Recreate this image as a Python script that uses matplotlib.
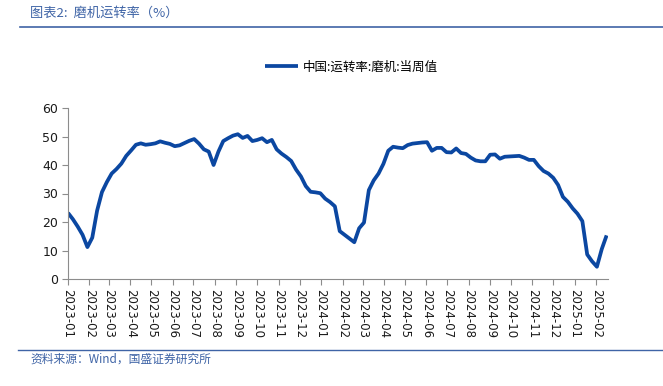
import matplotlib
matplotlib.use('Agg')
import matplotlib.pyplot as plt
from matplotlib.lines import Line2D
import pandas as pd

plt.rcParams['font.family'] = ['Noto Sans CJK SC', 'DejaVu Sans']

series_name = '中国:运转率:磨机:当周值'
values = [
    23.2, 21.0, 18.4, 15.5, 11.2, 14.5, 24.0, 30.5, 34.0, 37.0,
    38.6, 40.5, 43.2, 45.1, 47.1, 47.6, 47.1, 47.3, 47.6, 48.3,
    47.8, 47.4, 46.6, 46.9, 47.7, 48.5, 49.1, 47.5, 45.5, 44.7,
    40.0, 44.7, 48.4, 49.4, 50.3, 50.8, 49.5, 50.2, 48.4, 48.8,
    49.4, 48.0, 48.8, 45.5, 44.0, 42.8, 41.4, 38.4, 36.0, 32.6,
    30.6, 30.4, 30.1, 28.2, 27.0, 25.5, 16.8, 15.5, 14.2, 12.9,
    17.8, 19.8, 31.2, 34.6, 37.0, 40.4, 45.0, 46.4, 46.1, 45.9,
    47.0, 47.5, 47.7, 47.9, 48.0, 45.0, 46.0, 46.0, 44.5, 44.4,
    45.8, 44.2, 43.9, 42.6, 41.6, 41.3, 41.3, 43.6, 43.7, 42.2,
    42.9, 43.0, 43.1, 43.2, 42.6, 41.8, 41.8, 39.6, 37.9, 37.0,
    35.5, 33.0, 28.8, 27.1, 24.8, 22.9, 20.3, 8.6, 6.2, 4.3,
    10.5, 15.3,
]
dates = pd.date_range('2023-01-01', periods=len(values), freq='7D')
tick_dates = pd.date_range('2023-01-01', '2025-02-01', freq='MS')
tick_labels = [d.strftime('%Y-%m') for d in tick_dates]
y_ticks = [0, 10, 20, 30, 40, 50, 60]

line_color = '#0B47A1'
deco_color = '#3F64A6'
axis_color = '#8C8C8C'

fig = plt.figure(figsize=(6.63, 3.86), dpi=100)
ax = fig.add_axes([68 / 663, 1 - 279 / 386, (608 - 68) / 663, (279 - 108) / 386])

ax.plot(dates, values, color=line_color, lw=2.7, solid_joinstyle='round',
        solid_capstyle='butt', label=series_name)

ax.set_ylim(0, 60)
ax.set_yticks(y_ticks)
ax.set_xlim(dates[0], dates[-1] + pd.Timedelta(days=2))
ax.set_xticks(tick_dates)
ax.set_xticklabels(tick_labels, rotation=-90, fontsize=8.5, family='DejaVu Sans')
for lab in ax.get_yticklabels():
    lab.set_fontsize(9)
    lab.set_family('DejaVu Sans')

for s in ['top', 'right']:
    ax.spines[s].set_visible(False)
for s in ['left', 'bottom']:
    ax.spines[s].set_color(axis_color)
    ax.spines[s].set_linewidth(0.8)
ax.tick_params(axis='both', direction='out', length=4, width=0.8,
               color=axis_color, labelcolor='#1A1A1A', pad=3)

leg = fig.legend(loc='center', bbox_to_anchor=(0.53, 1 - 67 / 386), frameon=False,
                 fontsize=9, handlelength=2.6, handletextpad=0.4)

# title and decorations
fig.text(30 / 663, 1 - 13 / 386, '图表2:  磨机运转率（%）', color=deco_color,
         fontsize=9.5, va='center', ha='left', style='italic')
fig.add_artist(Line2D([20 / 663, 1], [1 - 27 / 386, 1 - 27 / 386],
                      transform=fig.transFigure, color=deco_color, lw=1.2))
fig.add_artist(Line2D([18 / 663, 1], [1 - 350 / 386, 1 - 350 / 386],
                      transform=fig.transFigure, color=deco_color, lw=1.0))
fig.text(30 / 663, 1 - 359 / 386, '资料来源：Wind，国盛证券研究所', color=deco_color,
         fontsize=8.5, va='center', ha='left', style='italic')

fig.savefig('out.png', dpi=100)
